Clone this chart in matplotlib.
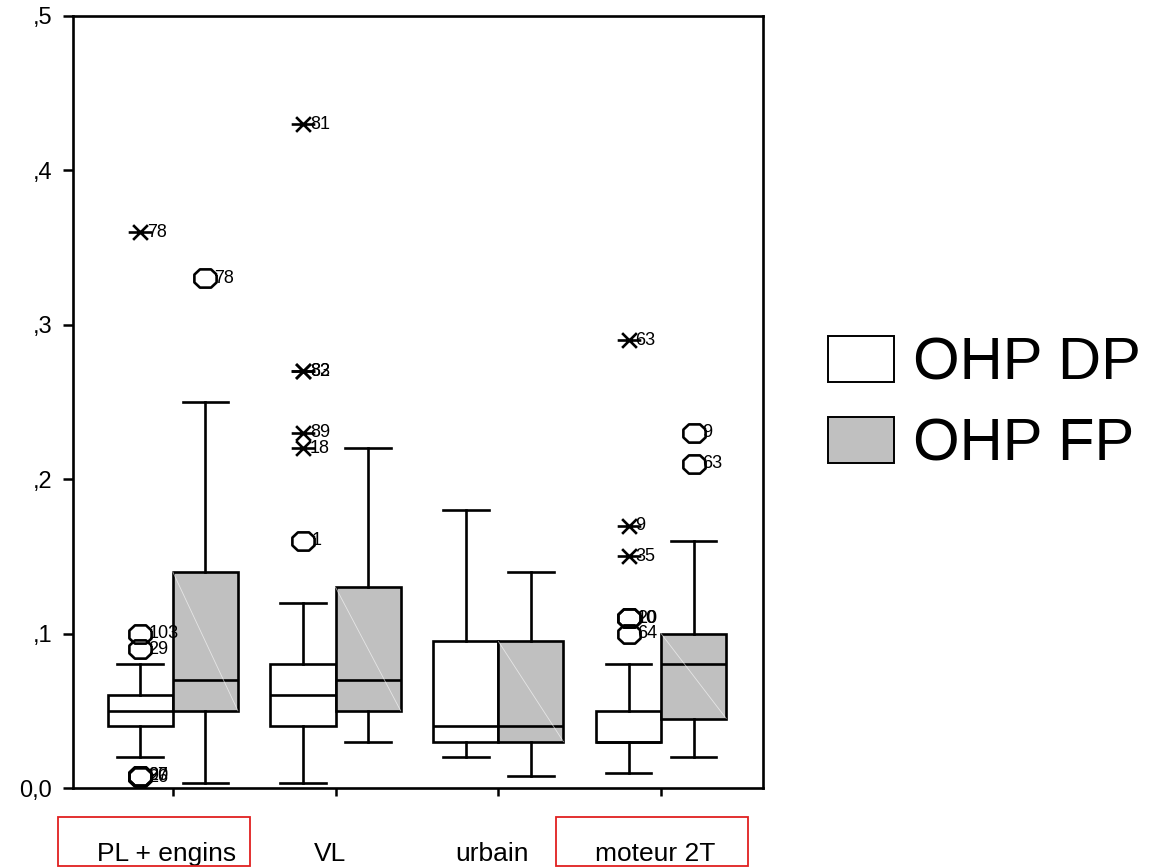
import numpy as np
import matplotlib.pyplot as plt
import matplotlib.transforms as mtransforms
from matplotlib.patches import Rectangle
from matplotlib.path import Path

plt.rcParams['font.family'] = ['Liberation Sans', 'DejaVu Sans']

groups = ["PL + engins", "VL", "urbain", "moteur 2T"]
series = ["OHP DP", "OHP FP"]
ytick_vals = [0.0, 0.1, 0.2, 0.3, 0.4, 0.5]
ytick_labels = ["0,0", ",1", ",2", ",3", ",4", ",5"]

# box summaries per group: low whisker, Q1, median, Q3, high whisker
dp_whislo = [0.02, 0.003, 0.02, 0.01]
dp_q1 = [0.04, 0.04, 0.03, 0.03]
dp_med = [0.05, 0.06, 0.04, 0.03]
dp_q3 = [0.06, 0.08, 0.095, 0.05]
dp_whishi = [0.08, 0.12, 0.18, 0.08]

fp_whislo = [0.003, 0.03, 0.008, 0.02]
fp_q1 = [0.05, 0.05, 0.03, 0.045]
fp_med = [0.07, 0.07, 0.04, 0.08]
fp_q3 = [0.14, 0.13, 0.095, 0.10]
fp_whishi = [0.25, 0.22, 0.14, 0.16]

# outliers ('o') and extreme values ('*') with their case numbers
dp_out_group = [0, 0, 0, 0, 0, 0, 1, 1, 1, 1, 1, 1, 3, 3, 3, 3, 3, 3]
dp_out_value = [0.10, 0.09, 0.008, 0.008, 0.007, 0.36,
                0.16, 0.22, 0.23, 0.27, 0.27, 0.43,
                0.11, 0.11, 0.10, 0.15, 0.17, 0.29]
dp_out_kind = ['o', 'o', 'o', 'o', 'o', '*',
               'o', '*', '*', '*', '*', '*',
               'o', 'o', 'o', '*', '*', '*']
dp_out_case = ['103', '29', '90', '27', '26', '78',
               '1', '18', '89', '82', '83', '81',
               '10', '20', '64', '35', '9', '63']

fp_out_group = [0, 3, 3]
fp_out_value = [0.33, 0.23, 0.21]
fp_out_kind = ['o', 'o', 'o']
fp_out_case = ['78', '9', '63']

# SPSS-like markers: flattened octagon and asterisk with a long bar
octagon = Path([(1, 0.35), (0.5, 0.82), (-0.5, 0.82), (-1, 0.35), (-1, -0.35),
                (-0.5, -0.82), (0.5, -0.82), (1, -0.35), (1, 0.35)])
star = Path([(-1, -1), (1, 1), (-1, 1), (1, -1), (-1.6, 0), (1.6, 0)],
            [Path.MOVETO, Path.LINETO, Path.MOVETO, Path.LINETO, Path.MOVETO, Path.LINETO])

fig = plt.figure(figsize=(11.6, 8.68), dpi=100)
ax = fig.add_axes([73 / 1160, 80 / 868, 690 / 1160, 772 / 868])

centers = np.arange(1, len(groups) + 1)
offset = 0.2
lw = 1.9


def draw_boxes(pos, whislo, q1, med, q3, whishi, face):
    stats = [dict(whislo=a, q1=b, med=c, q3=d, whishi=e, fliers=[])
             for a, b, c, d, e in zip(whislo, q1, med, q3, whishi)]
    ax.bxp(stats, positions=pos, widths=0.4, capwidths=0.28, patch_artist=True,
           showfliers=False,
           boxprops=dict(facecolor=face, edgecolor='black', linewidth=lw),
           medianprops=dict(color='black', linewidth=lw),
           whiskerprops=dict(color='black', linewidth=lw),
           capprops=dict(color='black', linewidth=lw))


def draw_outliers(pos, grp, vals, kinds, cases):
    for g, v, k, c in zip(grp, vals, kinds, cases):
        x = pos[g]
        if k == 'o':
            ax.plot([x], [v], linestyle='none', marker=octagon, ms=16,
                    mfc='none', mec='black', mew=1.9, zorder=4)
            dx = 6
        else:
            ax.plot([x], [v], linestyle='none', marker=star, ms=17,
                    mec='black', mew=1.9, zorder=4)
            dx = 5
        ax.annotate(c, (x, v), xytext=(dx, 0), textcoords='offset points',
                    ha='left', va='center', fontsize=13, zorder=5)


dp_pos = centers - offset
fp_pos = centers + offset
draw_boxes(dp_pos, dp_whislo, dp_q1, dp_med, dp_q3, dp_whishi, 'white')
draw_boxes(fp_pos, fp_whislo, fp_q1, fp_med, fp_q3, fp_whishi, '#c0c0c0')

# faint diagonal sheen across the grey boxes
for x, lo, hi in zip(fp_pos, fp_q1, fp_q3):
    ax.plot([x - 0.2, x + 0.2], [hi, lo], color='white', lw=0.6, alpha=0.6, zorder=3)

draw_outliers(dp_pos, dp_out_group, dp_out_value, dp_out_kind, dp_out_case)
draw_outliers(fp_pos, fp_out_group, fp_out_value, fp_out_kind, fp_out_case)

ax.set_xlim(0.387, 4.626)
ax.set_ylim(0, 0.5)
ax.set_yticks(ytick_vals)
ax.set_yticklabels(ytick_labels, fontsize=17)
ax.set_xticks(centers)
ax.set_xticklabels(groups, fontsize=19)
ax.tick_params(axis='y', direction='out', length=7, width=1.8, pad=8)
ax.tick_params(axis='x', direction='out', length=6, width=1.8, pad=33)
# category labels sit a little left of their ticks
shift = mtransforms.ScaledTranslation(-6 / 100, 0, fig.dpi_scale_trans)
for lbl in ax.get_xticklabels():
    lbl.set_transform(lbl.get_transform() + shift)
for s in ax.spines.values():
    s.set_linewidth(1.9)

# red frames around two of the category labels
for x0 in (58, 556):
    fig.add_artist(Rectangle((x0 / 1160, 2 / 868), 192 / 1160, 49 / 868,
                             transform=fig.transFigure, fill=False,
                             edgecolor='#e02020', linewidth=1.3))

handles = [Rectangle((0, 0), 1, 1, facecolor='white', edgecolor='black', linewidth=1.4),
           Rectangle((0, 0), 1, 1, facecolor='#c0c0c0', edgecolor='black', linewidth=1.4)]
fig.legend(handles, series, loc='center left', bbox_to_anchor=(828 / 1160, 0.534),
           frameon=False, fontsize=43, handlelength=1.1, handleheight=0.82,
           handletextpad=0.33, labelspacing=0.42, borderpad=0, borderaxespad=0)

fig.savefig('out.png', dpi=100)
